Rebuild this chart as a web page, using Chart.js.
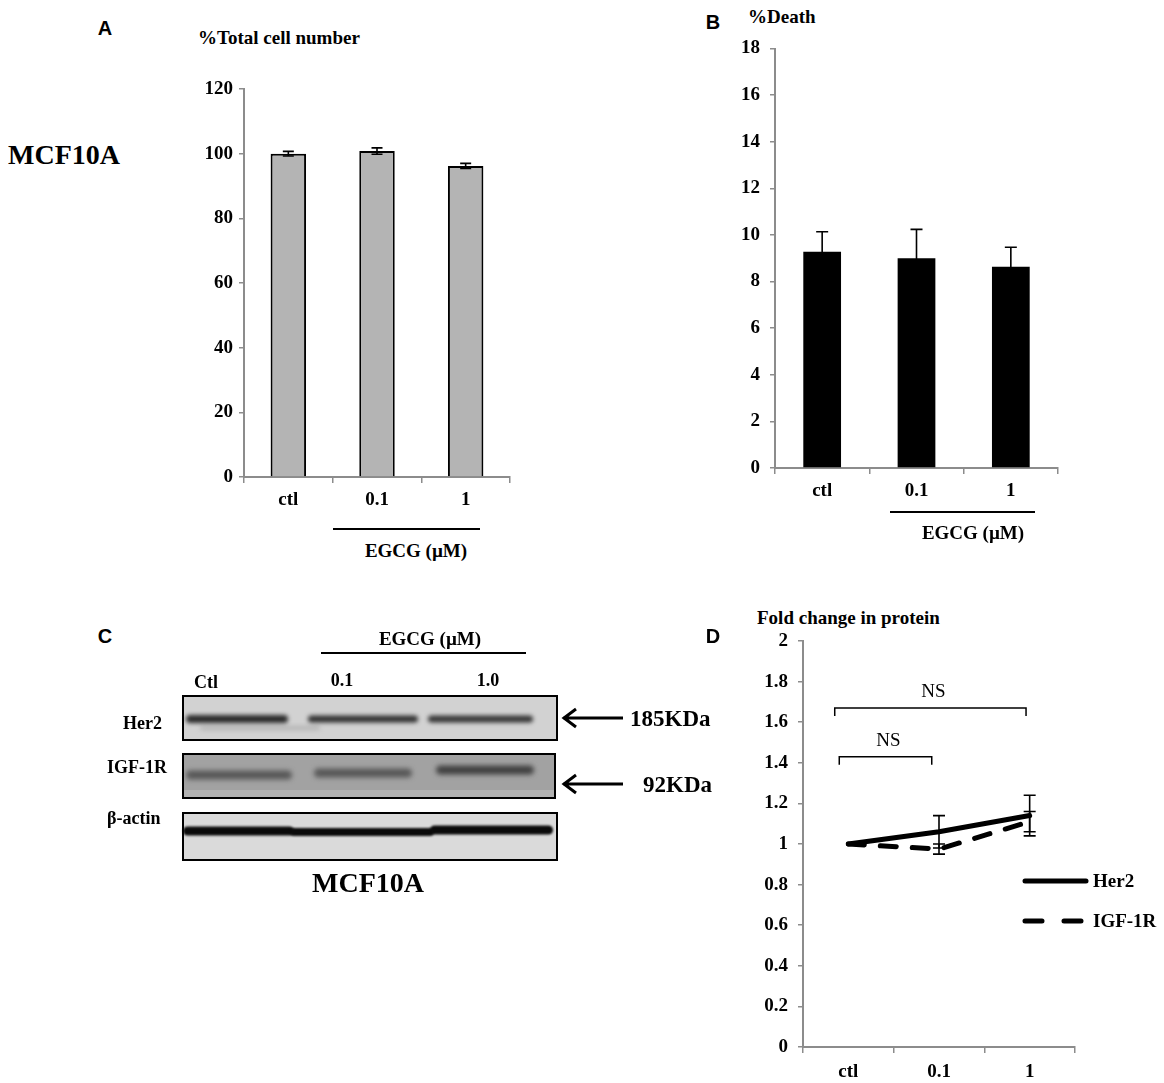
<!DOCTYPE html>
<html lang="en">
<head>
<meta charset="UTF-8">
<title>MCF10A - EGCG</title>
<script src="https://cdn.jsdelivr.net/npm/chart.js@4.4.0/dist/chart.umd.min.js"></script>
<style>
    body { margin: 0; background: #fff; }
    #fig { position: relative; width: 1164px; height: 1083px; overflow: hidden;
           font-family: 'Liberation Serif', 'Times New Roman', serif; font-weight: bold; color: #000; }
    .t { position: absolute; white-space: nowrap; font-size: 19px; line-height: 1; }
    .c { transform: translate(-50%, -50%); }
    .l { transform: translateY(-50%); }
    .letter { font-family: 'Liberation Sans', Arial, sans-serif; font-size: 20px; }
    .rule { position: absolute; height: 2px; background: #000; }
    canvas { position: absolute; }
</style>
</head>
<body>
<div id="fig">
    <!-- A -->
    <div class="t c letter" style="left:105px;top:28px;">A</div>
    <div class="t l" style="left:198px;top:37px;">%Total cell number</div>
    <div class="t l" style="left:8px;top:155px;font-size:28px;">MCF10A</div>
    <canvas id="chartA" width="340" height="460" style="left:180px;top:60px;"></canvas>
    <div class="rule" style="left:333px;top:528px;width:147px;"></div>
    <div class="t c" style="left:416px;top:550px;">EGCG (µM)</div>

    <!-- B -->
    <div class="t c letter" style="left:713px;top:22px;">B</div>
    <div class="t l" style="left:748px;top:16px;">%Death</div>
    <canvas id="chartB" width="380" height="500" style="left:700px;top:20px;"></canvas>
    <div class="rule" style="left:890px;top:511px;width:145px;"></div>
    <div class="t c" style="left:973px;top:532px;">EGCG (µM)</div>

    <!-- C -->
    <div class="t c letter" style="left:105px;top:636px;">C</div>
    <canvas id="blot" width="630" height="280" style="left:100px;top:620px;"></canvas>
    <div class="t c" style="left:430px;top:638px;">EGCG (µM)</div>
    <div class="rule" style="left:321px;top:652px;width:205px;"></div>
    <div class="t c" style="left:206px;top:682px;font-size:18px;">Ctl</div>
    <div class="t c" style="left:342px;top:680px;font-size:18px;">0.1</div>
    <div class="t c" style="left:488px;top:680px;font-size:18px;">1.0</div>
    <div class="t l" style="left:123px;top:723px;font-size:18px;">Her2</div>
    <div class="t l" style="left:107px;top:767px;font-size:18px;">IGF-1R</div>
    <div class="t l" style="left:107px;top:818px;font-size:18px;">β-actin</div>
    <div class="t l" style="left:630px;top:718px;font-size:23px;">185KDa</div>
    <div class="t l" style="left:643px;top:784px;font-size:23px;">92KDa</div>
    <div class="t c" style="left:368px;top:883px;font-size:28px;">MCF10A</div>

    <!-- D -->
    <div class="t c letter" style="left:713px;top:636px;">D</div>
    <div class="t l" style="left:757px;top:617px;">Fold change in protein</div>
    <canvas id="chartD" width="424" height="473" style="left:740px;top:610px;"></canvas>
</div>

<script>
    // values
    const doses = ['ctl', '0.1', '1'];
    const cellNumber = [100, 100.8, 96.2];
    const cellNumberErr = [0.7, 1.0, 0.8];
    const death = [9.28, 9.0, 8.64];
    const deathErr = [0.86, 1.24, 0.83];
    const her2Fold = [1.0, 1.06, 1.14];
    const her2Err = [0, 0.08, 0.10];
    const igfFold = [1.0, 0.975, 1.11];
    const igfErr = [0, 0.025, 0.05];
    const nsBrackets = [
        { from: -0.15, to: 1.96, y: 1.67 },
        { from: -0.1, to: 0.92, y: 1.43 }
    ];

    const serif = { family: "'Liberation Serif', 'Times New Roman', serif", size: 19, weight: 'bold' };
    const axisGrey = '#8c8c8c';

    function yAxis(max, step, width, pad) {
        return {
            min: 0, max: max,
            ticks: {
                stepSize: step, color: '#000', font: serif, padding: pad,
                callback: v => String(Number(v.toFixed(1)))
            },
            grid: { drawOnChartArea: false, color: axisGrey, lineWidth: 1.5, tickLength: 5 },
            border: { color: axisGrey, width: 2 },
            afterFit: s => { s.width = width; }
        };
    }
    function xAxis(height, pad) {
        return {
            offset: true,
            ticks: { color: '#000', font: serif, padding: pad },
            grid: { offset: true, drawOnChartArea: false, color: axisGrey, lineWidth: 1.5, tickLength: 6 },
            border: { color: axisGrey, width: 2 },
            afterFit: s => { s.height = height; }
        };
    }

    // error bars: one list of errors per dataset
    function errorBars(errLists, cap) {
        return {
            id: 'errorBars',
            afterDatasetsDraw(chart) {
                const ctx = chart.ctx, y = chart.scales.y;
                ctx.save();
                ctx.strokeStyle = '#000';
                ctx.lineWidth = 1.6;
                errLists.forEach((errs, di) => {
                    const ds = chart.data.datasets[di];
                    chart.getDatasetMeta(di).data.forEach((el, i) => {
                        if (!errs[i]) return;
                        const top = y.getPixelForValue(ds.data[i] + errs[i]);
                        const bot = y.getPixelForValue(ds.data[i] - errs[i]);
                        ctx.beginPath();
                        ctx.moveTo(el.x, top); ctx.lineTo(el.x, bot);
                        ctx.moveTo(el.x - cap, top); ctx.lineTo(el.x + cap, top);
                        ctx.moveTo(el.x - cap, bot); ctx.lineTo(el.x + cap, bot);
                        ctx.stroke();
                    });
                });
                ctx.restore();
            }
        };
    }

    // A: total cell number
    new Chart(document.getElementById('chartA'), {
        type: 'bar',
        data: {
            labels: doses,
            datasets: [{
                data: cellNumber,
                backgroundColor: '#b4b4b4',
                borderColor: '#000',
                borderWidth: 2,
                barPercentage: 0.4,
                categoryPercentage: 1
            }]
        },
        options: {
            responsive: false,
            animation: false,
            layout: { padding: { top: 29, right: 10, left: 0, bottom: 0 } },
            plugins: { legend: { display: false }, tooltip: { enabled: false } },
            scales: { x: xAxis(43, 6), y: yAxis(120, 20, 64, 6) }
        },
        plugins: [errorBars([cellNumberErr], 5.5)]
    });

    // B: % death
    new Chart(document.getElementById('chartB'), {
        type: 'bar',
        data: {
            labels: doses,
            datasets: [{
                data: death,
                backgroundColor: '#000',
                borderWidth: 0,
                barPercentage: 0.4,
                categoryPercentage: 1
            }]
        },
        options: {
            responsive: false,
            animation: false,
            layout: { padding: { top: 28.5, right: 22, left: 0, bottom: 0 } },
            plugins: { legend: { display: false }, tooltip: { enabled: false } },
            scales: { x: xAxis(52, 6), y: yAxis(18, 2, 75, 10) }
        },
        plugins: [errorBars([deathErr], 6)]
    });

    // D: fold change, brackets and side legend
    const nsPlugin = {
        id: 'nsBrackets',
        afterDatasetsDraw(chart) {
            const { ctx, scales: { x, y } } = chart;
            ctx.save();
            ctx.strokeStyle = '#000';
            ctx.fillStyle = '#000';
            ctx.lineWidth = 1.5;
            ctx.font = "19px 'Liberation Serif', serif";
            ctx.textAlign = 'center';
            nsBrackets.forEach(b => {
                const x0 = x.getPixelForValue(b.from), x1 = x.getPixelForValue(b.to);
                const yy = y.getPixelForValue(b.y);
                ctx.beginPath();
                ctx.moveTo(x0, yy + 8); ctx.lineTo(x0, yy); ctx.lineTo(x1, yy); ctx.lineTo(x1, yy + 8);
                ctx.stroke();
                ctx.fillText('NS', (x0 + x1) / 2 + 3, yy - 11);
            });
            ctx.restore();
        }
    };
    const sideLegend = {
        id: 'sideLegend',
        afterDraw(chart) {
            const ctx = chart.ctx, area = chart.chartArea;
            ctx.save();
            chart.data.datasets.forEach((ds, i) => {
                const y = area.top + 240 + i * 40;
                const x0 = area.right - 52;
                ctx.strokeStyle = ds.borderColor;
                ctx.lineWidth = ds.borderWidth;
                ctx.lineCap = 'round';
                ctx.setLineDash(ds.borderDash ? [17, 22] : []);
                ctx.beginPath();
                ctx.moveTo(x0 + 2, y); ctx.lineTo(x0 + 63, y);
                ctx.stroke();
                ctx.setLineDash([]);
                ctx.fillStyle = '#000';
                ctx.font = "bold 19px 'Liberation Serif', serif";
                ctx.textBaseline = 'middle';
                ctx.fillText(ds.label, x0 + 70, y + 1);
            });
            ctx.restore();
        }
    };

    new Chart(document.getElementById('chartD'), {
        type: 'line',
        data: {
            labels: doses,
            datasets: [
                { label: 'Her2', data: her2Fold, borderColor: '#000', borderWidth: 5,
                  borderCapStyle: 'round', pointRadius: 0, tension: 0 },
                { label: 'IGF-1R', data: igfFold, borderColor: '#000', borderWidth: 5,
                  borderDash: [16, 16], borderCapStyle: 'round', pointRadius: 0, tension: 0 }
            ]
        },
        options: {
            responsive: false,
            animation: false,
            layout: { padding: { top: 31, right: 89, left: 0, bottom: 0 } },
            plugins: { legend: { display: false }, tooltip: { enabled: false } },
            scales: { x: xAxis(36, 8), y: yAxis(2, 0.2, 63, 10) }
        },
        plugins: [errorBars([her2Err, igfErr], 6), nsPlugin, sideLegend]
    });

    // C: western blot drawn on a plain canvas (page coordinates)
    const bctx = document.getElementById('blot').getContext('2d');
    bctx.translate(-100, -620);

    function band(x0, x1, y, h, color, blur) {
        bctx.save();
        bctx.filter = 'blur(' + blur + 'px)';
        bctx.fillStyle = color;
        bctx.beginPath();
        bctx.roundRect(x0, y - h / 2, x1 - x0, h, h / 2);
        bctx.fill();
        bctx.restore();
    }
    function panel(x0, y0, x1, y1, bg) {
        bctx.fillStyle = bg;
        bctx.fillRect(x0, y0, x1 - x0, y1 - y0);
    }
    function frame(x0, y0, x1, y1) {
        bctx.strokeStyle = '#000';
        bctx.lineWidth = 2;
        bctx.strokeRect(x0, y0, x1 - x0, y1 - y0);
    }

    // Her2
    panel(183, 696, 557, 740, '#d2d2d2');
    band(200, 320, 728, 5, '#b8b8b8', 2);
    band(186, 288, 719, 8, '#2a2a2a', 2);
    band(308, 418, 719, 7, '#303030', 2);
    band(428, 533, 719, 7, '#353535', 2);
    frame(183, 696, 557, 740);

    // IGF-1R
    panel(183, 754, 555, 798, '#a2a2a2');
    panel(183, 790, 555, 798, '#b2b2b2');
    band(186, 292, 775, 9, '#585858', 2.5);
    band(314, 412, 773, 9, '#585858', 2.5);
    band(436, 534, 770, 9, '#404040', 2.5);
    frame(183, 754, 555, 798);

    // beta-actin
    panel(183, 813, 557, 860, '#dadada');
    band(183, 294, 831, 9, '#0a0a0a', 1);
    band(290, 434, 832, 8, '#0a0a0a', 1);
    band(430, 553, 830, 9, '#0a0a0a', 1);
    frame(183, 813, 557, 860);

    // arrows
    bctx.strokeStyle = '#000';
    bctx.lineWidth = 3;
    [718, 784].forEach(y => {
        bctx.beginPath();
        bctx.moveTo(563, y); bctx.lineTo(623, y);
        bctx.moveTo(576, y - 9); bctx.lineTo(564, y); bctx.lineTo(576, y + 9);
        bctx.stroke();
    });
</script>
</body>
</html>
